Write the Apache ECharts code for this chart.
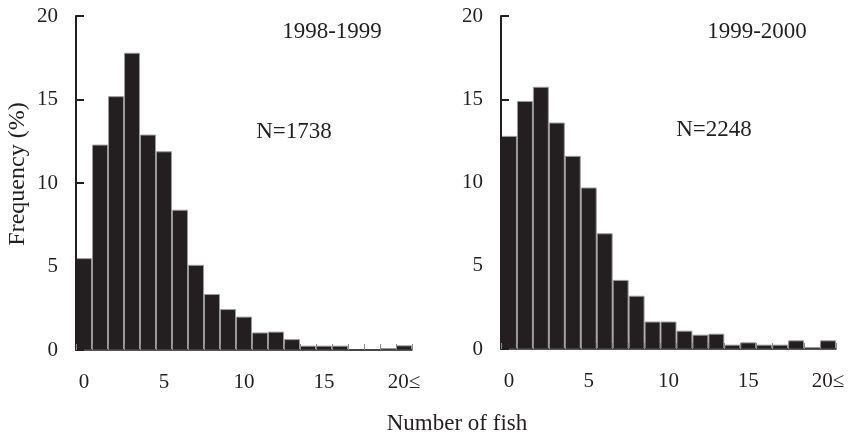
<!DOCTYPE html>
<html>
<head>
<meta charset="utf-8">
<script src="https://cdn.jsdelivr.net/npm/echarts@6/dist/echarts.min.js"></script>
<style>html,body{margin:0;padding:0;background:#fff}#c{width:848px;height:438px}</style>
</head>
<body>
<div id="c"></div>
<script>
var categories = ['0','1','2','3','4','5','6','7','8','9','10','11','12','13','14','15','16','17','18','19','20≤'];
var labelled = ['0','5','10','15','20≤'];
var freq1998 = [5.5, 12.3, 15.2, 17.8, 12.9, 11.9, 8.4, 5.1, 3.35, 2.45, 2.0, 1.05, 1.1, 0.65, 0.26, 0.26, 0.26, 0, 0, 0.12, 0.28];
var freq1999 = [12.8, 14.9, 15.75, 13.6, 11.6, 9.7, 6.95, 4.15, 3.2, 1.65, 1.65, 1.1, 0.86, 0.92, 0.26, 0.4, 0.26, 0.26, 0.52, 0.12, 0.52];
var yTicks = [0, 5, 10, 15, 20];
var panelTitles = ['1998-1999', '1999-2000'];
var sampleSizes = ['N=1738', 'N=2248'];
var xTitle = 'Number of fish';
var yTitle = 'Frequency (%)';

var FONT = "'Liberation Serif','Times New Roman',serif";
var INK = '#231f20';

function xAxisCfg(idx){
  return {
    type: 'category', gridIndex: idx, data: categories, boundaryGap: true, z: 5,
    axisLine: {lineStyle: {color: INK, width: 1.5}},
    axisTick: {show: true, inside: true, length: 6, interval: 0, lineStyle: {color: '#8a8a8a', width: 1}},
    axisLabel: {
      interval: function(i, v){ return labelled.indexOf(v) >= 0; },
      margin: 22, color: INK, fontFamily: FONT, fontSize: 21
    },
    splitLine: {show: false}
  };
}
function yAxisCfg(idx){
  return {
    type: 'value', gridIndex: idx, min: yTicks[0], max: yTicks[yTicks.length-1], interval: 5, z: 5,
    axisLine: {show: true, lineStyle: {color: INK, width: 2}},
    axisTick: {show: true, inside: true, length: 8, lineStyle: {color: INK, width: 2}},
    axisLabel: {margin: 18, color: INK, fontFamily: FONT, fontSize: 21},
    splitLine: {show: false}
  };
}
function barSeries(idx, data){
  return {
    type: 'bar', xAxisIndex: idx, yAxisIndex: idx, data: data,
    barCategoryGap: '0%',
    itemStyle: {color: INK, borderColor: '#9a9a9a', borderWidth: 1},
    silent: true
  };
}
function txt(x, y, s, size, rot){
  return {type: 'text', x: x, y: y, rotation: rot || 0,
    style: {text: s, fill: INK, font: size + 'px ' + FONT, textAlign: 'center', textVerticalAlign: 'middle'}};
}

var chart = echarts.init(document.getElementById('c'), null, {renderer: 'canvas'});
chart.setOption({
  animation: false,
  backgroundColor: '#fff',
  grid: [
    {left: 76, right: 436, top: 16, bottom: 88},
    {left: 501, right: 12, top: 16, bottom: 89}
  ],
  xAxis: [xAxisCfg(0), xAxisCfg(1)],
  yAxis: [yAxisCfg(0), yAxisCfg(1)],
  series: [barSeries(0, freq1998), barSeries(1, freq1999)],
  graphic: [
    txt(332, 32, panelTitles[0], 23),
    txt(294, 132, sampleSizes[0], 23),
    txt(757, 32, panelTitles[1], 23),
    txt(714, 130, sampleSizes[1], 23),
    txt(457, 424, xTitle, 23),
    txt(18, 174, yTitle, 24, Math.PI/2)
  ]
});
</script>
</body>
</html>
